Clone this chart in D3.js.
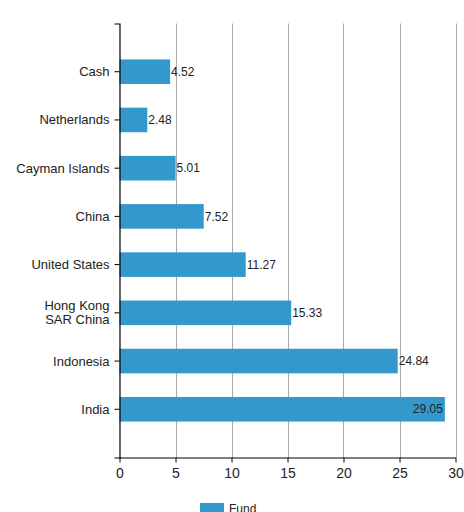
<!DOCTYPE html>
<html>
<head>
<meta charset="utf-8">
<script src="https://cdn.jsdelivr.net/npm/d3@7"></script>
<style>
  html, body { margin: 0; padding: 0; background: #fff; }
  svg { display: block; font-family: "Liberation Sans", Arial, sans-serif; }
</style>
</head>
<body>
<svg id="chart" width="464" height="512"></svg>
<script>
// Allocation by country (percent of fund)
const categories = ["Cash", "Netherlands", "Cayman Islands", "China", "United States", "Hong Kong SAR China", "Indonesia", "India"];
const categoryLines = [["Cash"], ["Netherlands"], ["Cayman Islands"], ["China"], ["United States"], ["Hong Kong", "SAR China"], ["Indonesia"], ["India"]];
const fundValues = [4.52, 2.48, 5.01, 7.52, 11.27, 15.33, 24.84, 29.05];
const xTicks = [0, 5, 10, 15, 20, 25, 30];
const seriesName = "Fund";

const barColor = "#3399cc";
const svg = d3.select("#chart");

const plotLeft = 119.5, plotRight = 455.5, plotTop = 23.5, plotBottom = 457.5;

const x = d3.scaleLinear().domain([0, 30]).range([plotLeft, plotRight]);
const y = d3.scaleBand().domain(categories).range([plotTop, plotBottom])
  .paddingInner(0.49).paddingOuter(0.745);

// vertical gridlines
svg.append("g").selectAll("line")
  .data(xTicks.filter(t => t > 0))
  .join("line")
  .attr("x1", d => Math.round(x(d)) + 0.5).attr("x2", d => Math.round(x(d)) + 0.5)
  .attr("y1", plotTop).attr("y2", plotBottom)
  .attr("stroke", "#aaa").attr("stroke-width", 1);

// bars
svg.append("g").selectAll("rect")
  .data(fundValues)
  .join("rect")
  .attr("x", x(0))
  .attr("y", (d, i) => y(categories[i]))
  .attr("width", d => x(d) - x(0))
  .attr("height", y.bandwidth())
  .attr("fill", barColor);

// value labels
svg.append("g").selectAll("text")
  .data(fundValues)
  .join("text")
  .attr("x", d => d > 27 ? x(d) - 2 : x(d) + 1)
  .attr("y", (d, i) => y(categories[i]) + y.bandwidth() / 2)
  .attr("dy", "0.35em")
  .attr("text-anchor", d => d > 27 ? "end" : "start")
  .attr("font-size", "12px")
  .attr("fill", "#222")
  .text(d => d.toFixed(2));

// y axis
const yAxis = svg.append("g")
  .attr("transform", `translate(${plotLeft},0)`)
  .call(d3.axisLeft(y).tickSize(5).tickSizeOuter(5).tickFormat(""));
yAxis.select(".domain").attr("stroke", "#000").attr("stroke-width", 1.2);
yAxis.selectAll(".tick line").attr("stroke", "#000");

// category labels (multi-line where needed)
const catG = svg.append("g");
categories.forEach((c, i) => {
  const lines = categoryLines[i];
  const cy = y(c) + y.bandwidth() / 2;
  const lh = 14;
  const t = catG.append("text")
    .attr("x", plotLeft - 10)
    .attr("text-anchor", "end")
    .attr("font-size", "13px")
    .attr("fill", "#222");
  lines.forEach((ln, j) => {
    t.append("tspan")
      .attr("x", plotLeft - 10)
      .attr("y", cy + (j - (lines.length - 1) / 2) * lh)
      .attr("dy", "0.35em")
      .text(ln);
  });
});

// x axis
const xAxis = svg.append("g")
  .attr("transform", `translate(0,${plotBottom})`)
  .call(d3.axisBottom(x).tickValues(xTicks).tickSize(5).tickSizeOuter(0));
xAxis.select(".domain").attr("stroke", "#000").attr("stroke-width", 1.2);
xAxis.selectAll(".tick line").attr("stroke", "#000");
xAxis.selectAll(".tick text")
  .attr("font-size", "14px").attr("fill", "#222")
  .attr("font-family", "Liberation Sans, Arial, sans-serif")
  .attr("y", 11);

// legend
const legend = svg.append("g").attr("transform", "translate(200,503)");
legend.append("rect").attr("width", 24).attr("height", 12).attr("fill", barColor);
legend.append("text").attr("x", 29).attr("y", 6).attr("dy", "0.35em")
  .attr("font-size", "12px").attr("fill", "#222").text(seriesName);
</script>
</body>
</html>
